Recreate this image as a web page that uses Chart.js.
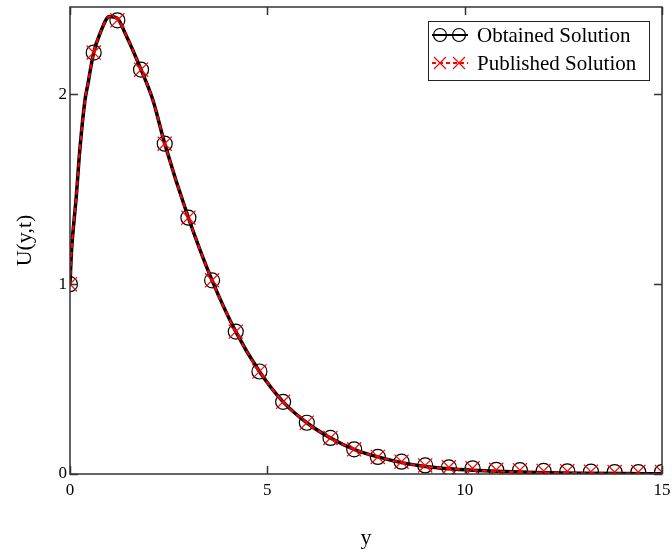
<!DOCTYPE html>
<html>
<head>
<meta charset="utf-8">
<script src="https://cdn.jsdelivr.net/npm/chart.js@4.4.0/dist/chart.umd.min.js"></script>
<style>
  html, body { margin: 0; padding: 0; background: #fff; }
  canvas { display: block; }
</style>
</head>
<body>
<canvas id="chart" width="672" height="554"></canvas>
<script>
// --- data ---
const curveX = [0, 0.04, 0.1, 0.15, 0.25, 0.38, 0.45, 0.6, 0.76, 1.0, 1.2, 1.4, 1.8, 2.1, 2.4, 3.0, 3.6, 4.2, 4.8, 5.4, 6.0, 6.6, 7.2, 7.8, 8.4, 9.0, 9.6, 10.2, 10.8, 11.4, 12.0, 13.0, 14.0, 15.0];
const curveU = [1.0, 1.18, 1.33, 1.44, 1.71, 1.97, 2.05, 2.22, 2.32, 2.41, 2.4, 2.32, 2.13, 1.97, 1.74, 1.35, 1.02, 0.75, 0.54, 0.38, 0.27, 0.19, 0.13, 0.09, 0.06, 0.04, 0.028, 0.02, 0.014, 0.01, 0.007, 0.004, 0.002, 0.001];

const markerX = [0, 0.6, 1.2, 1.8, 2.4, 3.0, 3.6, 4.2, 4.8, 5.4, 6.0, 6.6, 7.2, 7.8, 8.4, 9.0, 9.6, 10.2, 10.8, 11.4, 12.0, 12.6, 13.2, 13.8, 14.4, 15.0];
const obtainedU = [1.0, 2.22, 2.39, 2.13, 1.74, 1.35, 1.02, 0.75, 0.54, 0.38, 0.27, 0.19, 0.13, 0.09, 0.065, 0.045, 0.035, 0.03, 0.022, 0.02, 0.016, 0.014, 0.012, 0.01, 0.01, 0.01];
const publishedU = [1.0, 2.22, 2.39, 2.13, 1.74, 1.35, 1.02, 0.75, 0.54, 0.38, 0.27, 0.19, 0.13, 0.09, 0.065, 0.045, 0.035, 0.03, 0.022, 0.02, 0.016, 0.014, 0.012, 0.01, 0.01, 0.01];

const xTicks = [0, 5, 10, 15];
const yTicks = [0, 1, 2];
const seriesNames = ["Obtained Solution", "Published Solution"];

const SERIF = "'Liberation Serif', 'Times New Roman', serif";

function pts(xs, ys) {
  return xs.map((x, i) => ({ x, y: ys[i] }));
}

// frame with inward tick marks, Mathcad style
const framePlugin = {
  id: "frame",
  afterDatasetsDraw(chart) {
    const { ctx, chartArea: a, scales } = chart;
    ctx.save();
    ctx.strokeStyle = "#333";
    ctx.lineWidth = 1.5;
    ctx.strokeRect(a.left, a.top, a.right - a.left, a.bottom - a.top);
    ctx.beginPath();
    xTicks.forEach(v => {
      const px = Math.round(scales.x.getPixelForValue(v)) + 0.5;
      ctx.moveTo(px, a.bottom); ctx.lineTo(px, a.bottom - 8);
      ctx.moveTo(px, a.top); ctx.lineTo(px, a.top + 8);
    });
    yTicks.forEach(v => {
      const py = Math.round(scales.y.getPixelForValue(v)) + 0.5;
      ctx.moveTo(a.left, py); ctx.lineTo(a.left + 8, py);
      ctx.moveTo(a.right, py); ctx.lineTo(a.right - 8, py);
    });
    ctx.stroke();
    ctx.restore();
  }
};

// legend box top right
const legendPlugin = {
  id: "boxLegend",
  afterDraw(chart) {
    const ctx = chart.ctx;
    const bx = 428.5, by = 21.5, bw = 221, bh = 59;
    ctx.save();
    ctx.fillStyle = "#fff";
    ctx.fillRect(bx, by, bw, bh);
    ctx.strokeStyle = "#222";
    ctx.lineWidth = 1;
    ctx.strokeRect(bx, by, bw, bh);

    // obtained row
    let y = 35;
    ctx.strokeStyle = "#000";
    ctx.lineWidth = 2;
    ctx.beginPath(); ctx.moveTo(432, y); ctx.lineTo(468, y); ctx.stroke();
    ctx.lineWidth = 1.2;
    [440, 459].forEach(cx => {
      ctx.beginPath(); ctx.arc(cx, y, 6.5, 0, Math.PI * 2); ctx.stroke();
    });

    // published row
    y = 63;
    ctx.strokeStyle = "#ff0000";
    ctx.lineWidth = 2;
    ctx.setLineDash([4, 3]);
    ctx.beginPath(); ctx.moveTo(432, y); ctx.lineTo(468, y); ctx.stroke();
    ctx.setLineDash([]);
    ctx.lineWidth = 1.2;
    [440, 459].forEach(cx => {
      ctx.beginPath();
      ctx.moveTo(cx - 6, y - 6); ctx.lineTo(cx + 6, y + 6);
      ctx.moveTo(cx + 6, y - 6); ctx.lineTo(cx - 6, y + 6);
      ctx.stroke();
    });

    ctx.fillStyle = "#000";
    ctx.font = "21px " + SERIF;
    ctx.textBaseline = "middle";
    ctx.fillText(seriesNames[0], 477, 36);
    ctx.fillText(seriesNames[1], 477, 64);
    ctx.restore();
  }
};

const ctx = document.getElementById("chart").getContext("2d");
new Chart(ctx, {
  type: "scatter",
  data: {
    datasets: [
      {
        label: seriesNames[1] + " markers",
        data: pts(markerX, publishedU),
        showLine: false,
        pointStyle: "crossRot",
        pointRadius: 10,
        borderColor: "#ff0000",
        borderWidth: 1.2,
        order: 0,
      },
      {
        label: seriesNames[1],
        data: pts(curveX, curveU),
        showLine: true,
        pointRadius: 0,
        borderColor: "#ff0000",
        borderWidth: 2.2,
        borderDash: [5, 4],
        cubicInterpolationMode: "monotone",
        order: 1,
      },
      {
        label: seriesNames[0] + " markers",
        data: pts(markerX, obtainedU),
        showLine: false,
        pointStyle: "circle",
        pointRadius: 7.5,
        backgroundColor: "rgba(0,0,0,0)",
        borderColor: "#000",
        borderWidth: 1.2,
        order: 2,
      },
      {
        label: seriesNames[0],
        data: pts(curveX, curveU),
        showLine: true,
        pointRadius: 0,
        borderColor: "#000",
        borderWidth: 3.5,
        cubicInterpolationMode: "monotone",
        order: 3,
      },
    ],
  },
  options: {
    responsive: false,
    animation: false,
    layout: { autoPadding: false, padding: { top: 7, right: 10, left: 0, bottom: 0 } },
    plugins: {
      legend: { display: false },
      tooltip: { enabled: false },
    },
    scales: {
      x: {
        type: "linear",
        min: 0,
        max: 15,
        afterBuildTicks: s => { s.ticks = xTicks.map(v => ({ value: v })); },
        afterFit: s => { s.height = 80; s.paddingLeft = 0; s.paddingRight = 0; },
        grid: { display: false, drawTicks: false },
        border: { display: false },
        ticks: { padding: 6, color: "#000", font: { family: SERIF, size: 17 } },
        title: { display: true, text: "y", color: "#000", padding: { top: 3, bottom: 3 }, font: { family: SERIF, size: 22 } },
      },
      y: {
        type: "linear",
        min: 0,
        max: 2.46,
        afterBuildTicks: s => { s.ticks = yTicks.map(v => ({ value: v })); },
        afterFit: s => { s.width = 70; s.paddingTop = 0; s.paddingBottom = 0; },
        grid: { display: false, drawTicks: false },
        border: { display: false },
        ticks: { padding: 3, color: "#000", font: { family: SERIF, size: 17 } },
        title: { display: true, text: "U(y,t)", color: "#000", padding: { top: 12, bottom: 12 }, font: { family: SERIF, size: 22 } },
      },
    },
  },
  plugins: [framePlugin, legendPlugin],
});
</script>
</body>
</html>
